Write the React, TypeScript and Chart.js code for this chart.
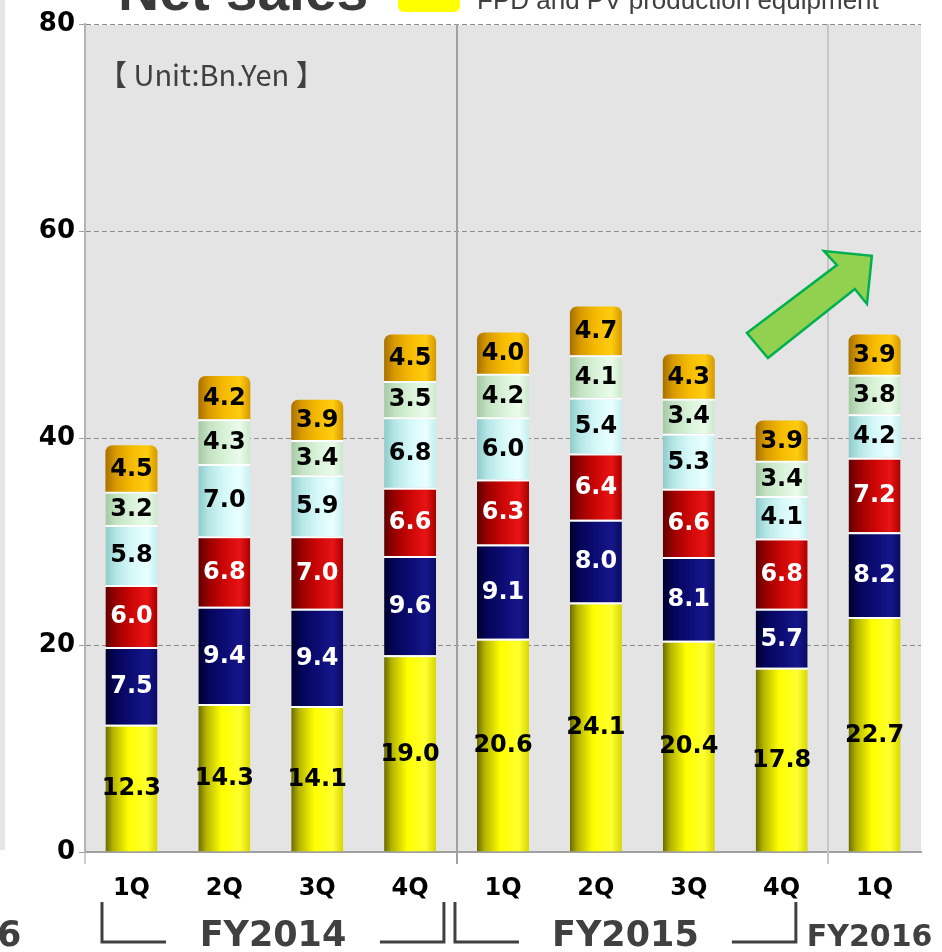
import React, { useEffect, useRef } from "react";
import { Chart, registerables } from "chart.js";

Chart.register(...registerables);

// ---- data ----
const quarters = ["1Q", "2Q", "3Q", "4Q", "1Q", "2Q", "3Q", "4Q", "1Q"];
const fiscalYears = ["FY2014", "FY2015", "FY2016"];
const fpdPvEquipment = [12.3, 14.3, 14.1, 19.0, 20.6, 24.1, 20.4, 17.8, 22.7];
const navySegment = [7.5, 9.4, 9.4, 9.6, 9.1, 8.0, 8.1, 5.7, 8.2];
const redSegment = [6.0, 6.8, 7.0, 6.6, 6.3, 6.4, 6.6, 6.8, 7.2];
const cyanSegment = [5.8, 7.0, 5.9, 6.8, 6.0, 5.4, 5.3, 4.1, 4.2];
const greenSegment = [3.2, 4.3, 3.4, 3.5, 4.2, 4.1, 3.4, 3.4, 3.8];
const orangeSegment = [4.5, 4.2, 3.9, 4.5, 4.0, 4.7, 4.3, 3.9, 3.9];
const yTickValues = [0, 20, 40, 60, 80];

const BAR_PCT = 0.56;
const LABEL_FONT = 'bold 24px "DejaVu Sans"';
const TICK_FONT_FAMILY = '"DejaVu Sans"';

type Stop = [number, string];

function cylinder(stops: Stop[]) {
  return (ctx: any) => {
    const chart = ctx.chart;
    const xs = chart.scales && chart.scales.x;
    if (!xs || ctx.type !== "data" || !isFinite(xs.width)) return stops[2][1];
    const cx = xs.getPixelForValue(ctx.dataIndex);
    const w = (xs.width / quarters.length) * BAR_PCT;
    const g = chart.ctx.createLinearGradient(cx - w / 2, 0, cx + w / 2, 0);
    stops.forEach(([o, c]) => g.addColorStop(o, c));
    return g;
  };
}

const yellowStops: Stop[] = [[0, "#6a6a00"], [0.15, "#b4b400"], [0.45, "#ffff00"], [0.8, "#ffff30"], [1, "#d6d600"]];
const navyStops: Stop[] = [[0, "#00002c"], [0.2, "#05055a"], [0.5, "#0c0c74"], [0.8, "#16168c"], [1, "#0a0a62"]];
const redStops: Stop[] = [[0, "#600000"], [0.2, "#9a0000"], [0.5, "#cc0606"], [0.8, "#e81414"], [1, "#a80000"]];
const cyanStops: Stop[] = [[0, "#8fcaca"], [0.2, "#b4e6e6"], [0.5, "#d6f8f8"], [0.8, "#eaffff"], [1, "#c4eeee"]];
const greenStops: Stop[] = [[0, "#a4c8a4"], [0.2, "#c2e2c2"], [0.5, "#d8f2d8"], [0.8, "#eafbea"], [1, "#cbe8cb"]];
const orangeStops: Stop[] = [[0, "#a87000"], [0.2, "#d89a00"], [0.5, "#f6bb00"], [0.8, "#ffcc10"], [1, "#d49800"]];

const valueLabels = {
  id: "valueLabels",
  afterDatasetsDraw(chart: any) {
    const c = chart.ctx;
    c.save();
    c.font = LABEL_FONT;
    c.textAlign = "center";
    c.textBaseline = "middle";
    chart.data.datasets.forEach((ds: any, di: number) => {
      const meta = chart.getDatasetMeta(di);
      meta.data.forEach((el: any, i: number) => {
        const v = ds.data[i];
        c.fillStyle = ds.labelColor;
        c.fillText(v.toFixed(1), el.x, (el.y + el.base) / 2 + 1);
      });
    });
    c.restore();
  },
};

const decor = {
  id: "decor",
  beforeDraw(chart: any) {
    const c = chart.ctx;
    const a = chart.chartArea;
    c.save();
    c.fillStyle = "#ffffff";
    c.fillRect(0, 0, chart.width, chart.height);
    // remnant strip at left edge
    c.fillStyle = "#e6e6e6";
    c.fillRect(0, 0, 5, a.bottom - 2);
    c.fillStyle = "#e4e4e4";
    c.fillRect(a.left, a.top + 1, a.right - a.left, a.bottom - a.top - 1);
    c.restore();
  },
  beforeDatasetsDraw(chart: any) {
    const c = chart.ctx;
    const a = chart.chartArea;
    const xs = chart.scales.x;
    c.save();
    const seps: [number, string][] = [[3.5, "#a0a0a0"], [7.5, "#c6c6c6"]];
    seps.forEach(([v, col]) => {
      const x = Math.round(xs.getPixelForValue(v));
      c.strokeStyle = col;
      c.lineWidth = 2;
      c.beginPath();
      c.moveTo(x, a.top);
      c.lineTo(x, a.bottom + 12);
      c.stroke();
    });
    c.strokeStyle = "#a0a0a0";
    c.lineWidth = 1;
    c.beginPath();
    c.moveTo(a.left, a.bottom);
    c.lineTo(a.left, a.bottom + 12);
    c.stroke();
    c.restore();
  },
  afterDraw(chart: any) {
    const c = chart.ctx;
    const xs = chart.scales.x;
    const ys = chart.scales.y;
    c.save();
    // title (cut off at top)
    c.fillStyle = "#3a3a3a";
    c.font = 'bold 57px "Liberation Sans"';
    c.textAlign = "left";
    c.textBaseline = "alphabetic";
    c.fillText("Net sales", 118, 10);
    // legend swatch
    c.fillStyle = "#ffff00";
    c.beginPath();
    c.roundRect(398, -10, 62, 22, 6);
    c.fill();
    c.fillStyle = "#404040";
    c.font = '26px "Liberation Sans"';
    c.fillText("FPD and PV production equipment", 477, 9);
    // unit
    c.fillStyle = "#404040";
    c.font = '29px "Noto Sans CJK JP"';
    c.textBaseline = "middle";
    c.fillText("【 Unit:Bn.Yen 】", 98, 75);

    // arrow (data-space anchors)
    const pts: [number, number][] = [
      [6.626, 50.14], [7.595, 56.71], [7.455, 58.07], [7.971, 57.6],
      [7.918, 52.95], [7.788, 54.4], [6.852, 47.73],
    ];
    c.beginPath();
    pts.forEach(([ix, v], k) => {
      const px = xs.getPixelForValue(ix);
      const py = ys.getPixelForValue(v);
      if (k === 0) c.moveTo(px, py);
      else c.lineTo(px, py);
    });
    c.closePath();
    c.fillStyle = "#92d050";
    c.fill();
    c.strokeStyle = "#00b050";
    c.lineWidth = 2.5;
    c.lineJoin = "miter";
    c.stroke();

    // fiscal-year brackets
    const yTop = 902;
    const yBot = 942;
    c.strokeStyle = "#404040";
    c.lineWidth = 3;
    c.lineJoin = "miter";
    const bracket = (startIdx: number, endIdx: number, label: string) => {
      const x1 = xs.getPixelForValue(startIdx);
      const x2 = xs.getPixelForValue(endIdx);
      c.beginPath();
      c.moveTo(x1, yTop);
      c.lineTo(x1, yBot);
      c.lineTo(x1 + 64, yBot);
      c.stroke();
      c.beginPath();
      c.moveTo(x2 - 64, yBot);
      c.lineTo(x2, yBot);
      c.lineTo(x2, yTop);
      c.stroke();
      c.fillStyle = "#404040";
      c.font = 'bold 35px "DejaVu Sans"';
      c.textAlign = "center";
      c.textBaseline = "alphabetic";
      c.fillText(label, (x1 + x2) / 2, 946);
    };
    bracket(-0.317, 3.364, fiscalYears[0]);
    bracket(3.483, 7.153, fiscalYears[1]);
    c.fillStyle = "#404040";
    c.font = 'bold 30px "DejaVu Sans"';
    c.textAlign = "center";
    c.fillText(fiscalYears[2], xs.getPixelForValue(8) - 5, 946);
    c.font = 'bold 35px "DejaVu Sans"';
    c.textAlign = "left";
    c.fillText("6", -3, 946);
    c.restore();
  },
};

export default function App() {
  const ref = useRef<HTMLCanvasElement | null>(null);
  useEffect(() => {
    if (!ref.current) return;
    const mk = (label: string, data: number[], stops: Stop[], labelColor: string, top = false) => ({
      label,
      data,
      backgroundColor: cylinder(stops),
      borderColor: "rgba(255,255,255,0.95)",
      borderWidth: top ? 0 : { top: 2, bottom: 0, left: 0, right: 0 },
      borderSkipped: "start",
      borderRadius: top ? { topLeft: 7, topRight: 7, bottomLeft: 0, bottomRight: 0 } : 0,
      labelColor,
      barPercentage: BAR_PCT,
      categoryPercentage: 1,
    });
    const chart = new Chart(ref.current, {
      type: "bar",
      data: {
        labels: quarters,
        datasets: [
          mk("FPD and PV production equipment", fpdPvEquipment, yellowStops, "#000000"),
          mk("Segment 2", navySegment, navyStops, "#ffffff"),
          mk("Segment 3", redSegment, redStops, "#ffffff"),
          mk("Segment 4", cyanSegment, cyanStops, "#000000"),
          mk("Segment 5", greenSegment, greenStops, "#000000"),
          mk("Segment 6", orangeSegment, orangeStops, "#000000", true),
        ] as any,
      },
      options: {
        responsive: false,
        animation: false,
        layout: { padding: { top: 24, right: 21, left: 0, bottom: 0 } },
        plugins: { legend: { display: false }, tooltip: { enabled: false }, title: { display: false } },
        scales: {
          x: {
            stacked: true,
            grid: { display: false, drawTicks: false },
            border: { display: true, color: "#a0a0a0", width: 2 },
            ticks: {
              color: "#000000",
              font: { family: TICK_FONT_FAMILY, size: 24, weight: "bold" },
              padding: 22,
              maxRotation: 0,
              autoSkip: false,
            },
            afterFit: (s: any) => { s.height = 100; },
          },
          y: {
            stacked: true,
            min: 0,
            max: 80,
            afterBuildTicks: (s: any) => { s.ticks = yTickValues.map((v) => ({ value: v })); },
            grid: {
              color: (ctx: any) => (ctx.tick && ctx.tick.value === 0 ? "rgba(0,0,0,0)" : "#8c8c8c"),
              lineWidth: 1,
              tickLength: 6,
              tickColor: "#a0a0a0",
            },
            border: { display: true, color: "#b4b4b4", width: 2, dash: [5, 3] },
            ticks: {
              color: "#000000",
              font: { family: TICK_FONT_FAMILY, size: 26, weight: "bold" },
              padding: 4,
            },
            afterFit: (s: any) => { s.width = 85; },
          },
        },
      } as any,
      plugins: [decor, valueLabels],
    });
    return () => chart.destroy();
  }, []);
  return (
    <div style={{ position: "fixed", left: 0, top: 0, width: 942, height: 952 }}>
      <canvas ref={ref} width={942} height={952} />
    </div>
  );
}
